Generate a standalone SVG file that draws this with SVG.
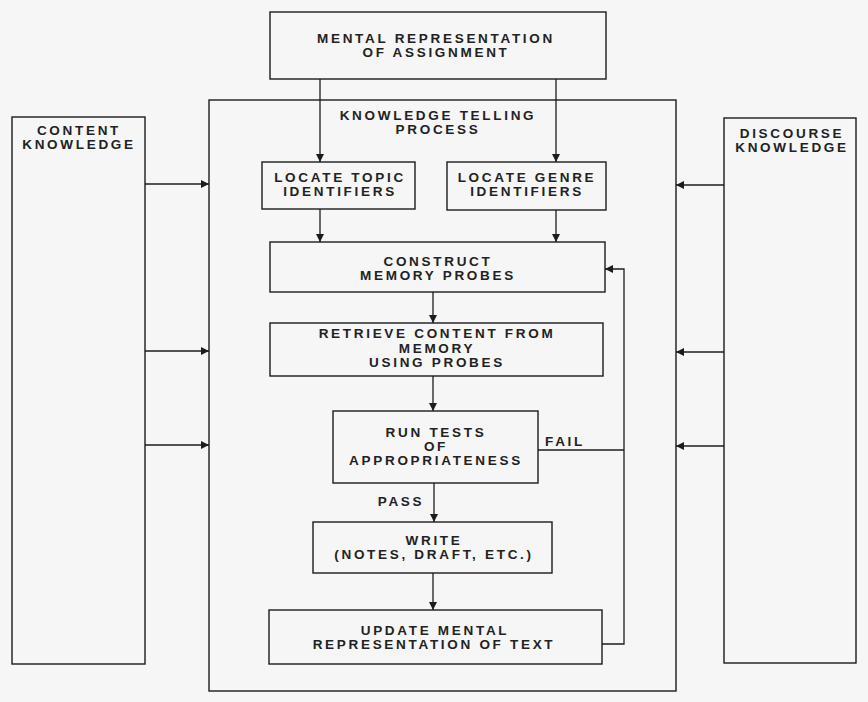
<svg xmlns="http://www.w3.org/2000/svg" width="868" height="702" viewBox="0 0 868 702">
<defs>
<style>
.box{fill:none;stroke:#1c1c1c;stroke-width:1.4}
.ln{fill:none;stroke:#1c1c1c;stroke-width:1.3}
.t{font-family:"Liberation Sans",Arial,sans-serif;font-size:13.5px;font-weight:bold;letter-spacing:2.7px;fill:#222;text-anchor:middle}
</style>
<marker id="ah" viewBox="0 0 10 10" refX="10" refY="5" markerWidth="8" markerHeight="8" markerUnits="userSpaceOnUse" orient="auto">
<path d="M0,0 L10,5 L0,10 Z" fill="#1c1c1c"/>
</marker>
</defs>
<rect x="0" y="0" width="868" height="702" fill="#f6f6f6"/>

<g id="mental-assignment">
<rect class="box" x="270" y="12" width="336" height="67"/>
<text class="t" y="43"><tspan x="436">MENTAL REPRESENTATION</tspan><tspan x="436" dy="14">OF ASSIGNMENT</tspan></text>
</g>

<g id="knowledge-telling">
<rect class="box" x="209" y="100" width="467" height="591"/>
<text class="t" y="120"><tspan x="438">KNOWLEDGE TELLING</tspan><tspan x="438" dy="14">PROCESS</tspan></text>
</g>

<g id="content-knowledge">
<rect class="box" x="12" y="117" width="133" height="547"/>
<text class="t" y="135"><tspan x="79">CONTENT</tspan><tspan x="79" dy="14">KNOWLEDGE</tspan></text>
</g>

<g id="discourse-knowledge">
<rect class="box" x="724" y="118" width="132" height="545"/>
<text class="t" y="138"><tspan x="792">DISCOURSE</tspan><tspan x="792" dy="14">KNOWLEDGE</tspan></text>
</g>

<g id="locate-topic">
<rect class="box" x="262" y="162" width="153" height="47"/>
<text class="t" y="182"><tspan x="340">LOCATE TOPIC</tspan><tspan x="340" dy="14">IDENTIFIERS</tspan></text>
</g>

<g id="locate-genre">
<rect class="box" x="447" y="162" width="159" height="48"/>
<text class="t" y="182"><tspan x="527">LOCATE GENRE</tspan><tspan x="527" dy="14">IDENTIFIERS</tspan></text>
</g>

<g id="construct">
<rect class="box" x="270" y="242" width="335" height="50"/>
<text class="t" y="266"><tspan x="438">CONSTRUCT</tspan><tspan x="438" dy="14">MEMORY PROBES</tspan></text>
</g>

<g id="retrieve">
<rect class="box" x="270" y="323" width="333" height="53"/>
<text class="t" y="338"><tspan x="437">RETRIEVE CONTENT FROM</tspan><tspan x="437" dy="14.5">MEMORY</tspan><tspan x="437" dy="14">USING PROBES</tspan></text>
</g>

<g id="run-tests">
<rect class="box" x="333" y="411" width="205" height="72"/>
<text class="t" y="437"><tspan x="436">RUN TESTS</tspan><tspan x="436" dy="14">OF</tspan><tspan x="436" dy="14">APPROPRIATENESS</tspan></text>
</g>

<g id="write">
<rect class="box" x="313" y="522" width="239" height="51"/>
<text class="t" y="545"><tspan x="434">WRITE</tspan><tspan x="434" dy="14">(NOTES, DRAFT, ETC.)</tspan></text>
</g>

<g id="update">
<rect class="box" x="269" y="610" width="333" height="54"/>
<text class="t" y="635"><tspan x="435">UPDATE MENTAL</tspan><tspan x="434" dy="14">REPRESENTATION OF TEXT</tspan></text>
</g>

<g id="connectors">
<line class="ln" x1="320" y1="79" x2="320" y2="162" marker-end="url(#ah)"/>
<line class="ln" x1="556" y1="79" x2="556" y2="162" marker-end="url(#ah)"/>
<line class="ln" x1="320" y1="209" x2="320" y2="242" marker-end="url(#ah)"/>
<line class="ln" x1="556" y1="210" x2="556" y2="242" marker-end="url(#ah)"/>
<line class="ln" x1="433" y1="292" x2="433" y2="323" marker-end="url(#ah)"/>
<line class="ln" x1="433" y1="376" x2="433" y2="411" marker-end="url(#ah)"/>
<line class="ln" x1="434" y1="483" x2="434" y2="522" marker-end="url(#ah)"/>
<line class="ln" x1="433" y1="573" x2="433" y2="610" marker-end="url(#ah)"/>
<polyline class="ln" points="538,450 624,450"/>
<polyline class="ln" points="602,644 624,644 624,269 605,269" marker-end="url(#ah)"/>
<line class="ln" x1="145" y1="184" x2="209" y2="184" marker-end="url(#ah)"/>
<line class="ln" x1="145" y1="351" x2="209" y2="351" marker-end="url(#ah)"/>
<line class="ln" x1="145" y1="445" x2="209" y2="445" marker-end="url(#ah)"/>
<line class="ln" x1="724" y1="185" x2="676" y2="185" marker-end="url(#ah)"/>
<line class="ln" x1="724" y1="352" x2="676" y2="352" marker-end="url(#ah)"/>
<line class="ln" x1="724" y1="446" x2="676" y2="446" marker-end="url(#ah)"/>
<text class="t" x="565" y="446">FAIL</text>
<text class="t" x="401" y="506">PASS</text>
</g>
</svg>
